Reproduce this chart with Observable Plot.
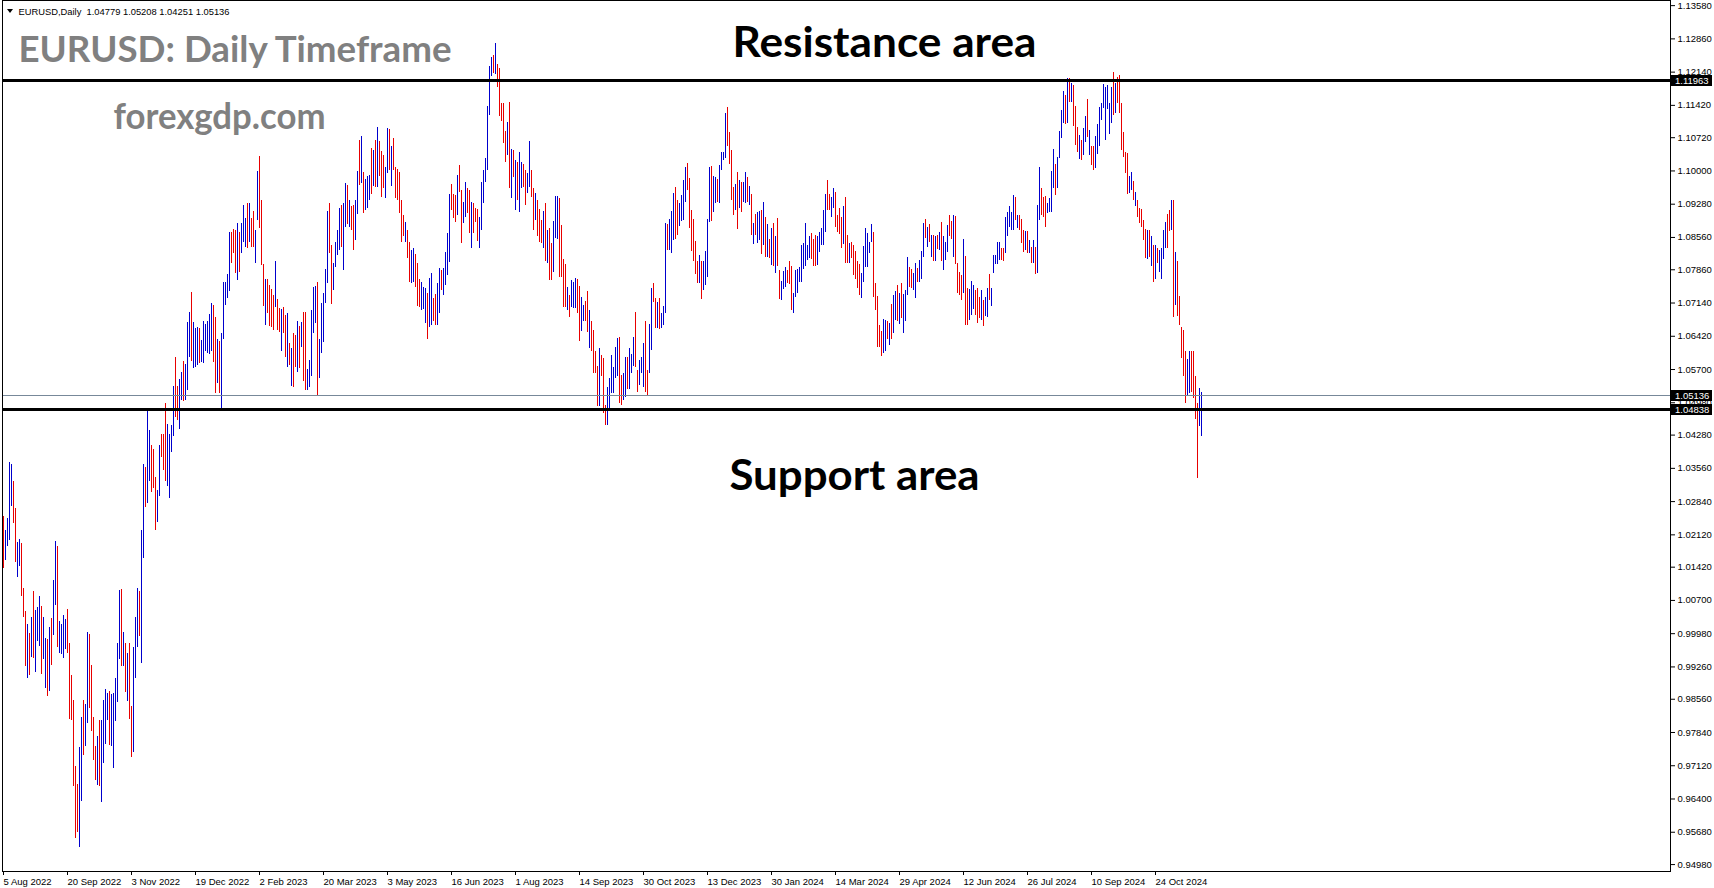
<!DOCTYPE html>
<html>
<head>
<meta charset="utf-8">
<script src="https://cdn.jsdelivr.net/npm/d3@7"></script>
<script src="https://cdn.jsdelivr.net/npm/@observablehq/plot@0.6"></script>
<style>
html, body { margin: 0; padding: 0; background: #fff; }
#chart svg { display: block; }
</style>
</head>
<body>
<div id="chart"></div>
<script>
// ---- Daily EURUSD bars, 5 Aug 2022 .. 26 Nov 2024 ----
const high = [
1.0252,1.0221,1.0248,1.0369,1.0364,1.0328,1.0269,1.0195,1.0202,1.0193,
1.0096,1.0047,1.0018,0.9999,1.0033,1.0090,1.0049,1.0054,1.0079,1.0056,
1.0032,0.9988,0.9985,1.0011,1.0031,1.0113,1.0198,1.0187,1.0025,1.0018,
1.0037,1.0029,1.0050,0.9977,0.9908,0.9853,0.9710,0.9672,0.9752,0.9816,
0.9853,0.9845,1.0000,0.9996,0.9928,0.9816,0.9754,0.9776,0.9811,0.9809,
0.9853,0.9877,0.9869,0.9873,0.9867,0.9869,0.9900,0.9977,1.0091,1.0094,
1.0000,0.9977,0.9954,0.9977,0.9841,0.9967,1.0034,1.0096,1.0090,1.0221,
1.0365,1.0357,1.0483,1.0438,1.0406,1.0396,1.0336,1.0308,1.0405,1.0429,
1.0429,1.0496,1.0452,1.0429,1.0449,1.0534,1.0595,1.0533,1.0548,1.0564,
1.0588,1.0581,1.0672,1.0694,1.0737,1.0672,1.0658,1.0660,1.0658,1.0633,
1.0673,1.0668,1.0673,1.0689,1.0712,1.0709,1.0683,1.0636,1.0631,1.0647,
1.0759,1.0759,1.0776,1.0866,1.0866,1.0874,1.0872,1.0887,1.0867,1.0886,
1.0925,1.0898,1.0930,1.0929,1.0898,1.0912,1.0872,1.0999,1.1031,1.0937,
1.0797,1.0766,1.0766,1.0753,1.0743,1.0730,1.0804,1.0722,1.0703,1.0699,
1.0705,1.0687,1.0692,1.0627,1.0615,1.0647,1.0644,1.0673,1.0664,1.0671,
1.0693,1.0693,1.0570,1.0590,1.0698,1.0748,1.0750,1.0758,1.0635,1.0712,
1.0734,1.0787,1.0912,1.0930,1.0839,1.0799,1.0844,1.0871,1.0918,1.0925,
1.0929,1.0972,1.0969,1.0937,1.0922,1.0925,1.0936,1.0999,1.1067,1.1075,
1.0996,1.0981,1.0987,1.0990,1.1048,1.1044,1.1067,1.1095,1.1064,1.1043,
1.1033,1.1008,1.1091,1.1090,1.1054,1.1070,1.1008,1.1004,1.0997,1.0935,
1.0904,1.0889,1.0871,1.0846,1.0828,1.0832,1.0818,1.0799,1.0766,1.0759,
1.0748,1.0745,1.0735,1.0768,1.0777,1.0723,1.0732,1.0756,1.0788,1.0785,
1.0788,1.0824,1.0864,1.0950,1.0971,1.0950,1.0947,1.0990,1.1012,1.0958,
1.0932,1.0976,1.0961,1.0958,1.0932,1.0930,1.0918,1.0917,1.0900,1.0974,
1.1001,1.1026,1.1140,1.1227,1.1245,1.1250,1.1276,1.1230,1.1222,1.1145,
1.1145,1.1086,1.1105,1.1148,1.1046,1.1045,1.1023,1.1019,1.1041,1.1019,
1.1015,1.1002,1.0995,1.1064,1.1002,1.0961,1.0951,1.0935,1.0916,1.0893,
1.0912,1.0930,1.0871,1.0875,1.0842,1.0891,1.0944,1.0945,1.0940,1.0882,
1.0808,1.0797,1.0748,1.0730,1.0763,1.0759,1.0768,1.0765,1.0750,1.0727,
1.0709,1.0718,1.0738,1.0698,1.0673,1.0655,1.0610,1.0577,1.0616,1.0600,
1.0593,1.0492,1.0532,1.0551,1.0600,1.0575,1.0618,1.0637,1.0640,1.0557,
1.0561,1.0595,1.0595,1.0616,1.0603,1.0640,1.0694,1.0568,1.0590,1.0597,
1.0626,1.0674,1.0568,1.0668,1.0745,1.0757,1.0723,1.0716,1.0723,1.0691,
1.0707,1.0886,1.0884,1.0894,1.0912,1.0951,1.0964,1.0935,1.0929,1.0947,
1.0979,1.1007,1.1016,1.0983,1.0914,1.0894,1.0848,1.0805,1.0817,1.0803,
1.0803,1.0826,1.0894,1.1007,1.1010,1.0987,1.0985,1.0981,1.1012,1.1041,
1.1039,1.1124,1.1137,1.1083,1.1044,1.0965,1.0971,1.0997,1.0979,1.0976,
1.0974,1.0997,1.0985,1.0966,1.0949,1.0886,1.0906,1.0909,1.0912,1.0914,
1.0932,1.0900,1.0883,1.0851,1.0876,1.0886,1.0857,1.0898,1.0784,1.0761,
1.0782,1.0790,1.0784,1.0804,1.0793,1.0734,1.0784,1.0787,1.0790,1.0839,
1.0842,1.0887,1.0839,1.0858,1.0864,1.0851,1.0860,1.0857,1.0867,1.0875,
1.0914,1.0948,1.0979,1.0950,1.0943,1.0961,1.0954,1.0904,1.0918,1.0900,
1.0922,1.0943,1.0860,1.0842,1.0845,1.0839,1.0826,1.0805,1.0797,1.0779,
1.0836,1.0875,1.0864,1.0846,1.0884,1.0866,1.0757,1.0728,1.0665,1.0653,
1.0678,1.0676,1.0675,1.0669,1.0711,1.0730,1.0740,1.0752,1.0734,1.0756,
1.0733,1.0741,1.0813,1.0790,1.0787,1.0777,1.0799,1.0788,1.0806,1.0826,
1.0887,1.0894,1.0877,1.0884,1.0860,1.0860,1.0859,1.0860,1.0867,1.0888,
1.0859,1.0844,1.0882,1.0904,1.0891,1.0904,1.0902,1.0800,1.0781,1.0774,
1.0852,1.0815,1.0745,1.0743,1.0761,1.0752,1.0741,1.0745,1.0725,1.0741,
1.0720,1.0725,1.0745,1.0776,1.0746,1.0817,1.0817,1.0846,1.0846,1.0831,
1.0831,1.0900,1.0909,1.0922,1.0909,1.0947,1.0942,1.0904,1.0904,1.0894,
1.0870,1.0869,1.0868,1.0849,1.0835,1.0849,1.0835,1.0925,1.1007,1.0963,
1.0943,1.0945,1.0929,1.0940,1.0999,1.1046,1.1014,1.1030,1.1086,1.1130,
1.1172,1.1163,1.1200,1.1200,1.1190,1.1185,1.1140,1.1095,1.1077,1.1066,
1.1093,1.1118,1.1154,1.1088,1.1053,1.1053,1.1075,1.1101,1.1138,1.1147,
1.1187,1.1180,1.1185,1.1147,1.1181,1.1214,1.1190,1.1202,1.1207,1.1145,
1.1084,1.1040,1.1037,1.0987,1.0997,1.0978,1.0954,1.0936,1.0918,1.0916,
1.0893,1.0873,1.0871,1.0871,1.0857,1.0839,1.0839,1.0831,1.0828,1.0831,
1.0871,1.0889,1.0906,1.0914,1.0936,1.0936,1.0824,1.0805,1.0728,1.0662,
1.0655,1.0608,1.0591,1.0608,1.0609,1.0610,1.0555,1.0497,1.0528,1.05208
];
const low = [
1.0140,1.0156,1.0187,1.0200,1.0273,1.0237,1.0153,1.0120,1.0144,1.0079,
1.0032,0.9926,0.9900,0.9908,0.9947,0.9945,0.9913,0.9982,0.9971,0.9910,
0.9941,0.9879,0.9863,0.9873,0.9929,0.9993,1.0058,0.9967,0.9954,0.9952,
0.9945,0.9964,0.9954,0.9812,0.9809,0.9668,0.9554,0.9568,0.9536,0.9635,
0.9735,0.9754,0.9804,0.9835,0.9787,0.9723,0.9681,0.9669,0.9668,0.9632,
0.9716,0.9757,0.9810,0.9756,0.9754,0.9705,0.9807,0.9848,0.9942,0.9926,
0.9926,0.9871,0.9852,0.9813,0.9729,0.9741,0.9900,0.9969,0.9991,0.9934,
1.0161,1.0271,1.0279,1.0328,1.0304,1.0312,1.0222,1.0238,1.0295,1.0380,
1.0352,1.0328,1.0317,1.0290,1.0391,1.0426,1.0467,1.0460,1.0441,1.0503,
1.0501,1.0503,1.0525,1.0595,1.0587,1.0573,1.0575,1.0579,1.0582,1.0586,
1.0582,1.0608,1.0604,1.0602,1.0610,1.0586,1.0517,1.0539,1.0517,1.0486,
1.0636,1.0709,1.0723,1.0738,1.0799,1.0821,1.0777,1.0763,1.0780,1.0821,
1.0844,1.0835,1.0833,1.0846,1.0835,1.0835,1.0800,1.0893,1.0875,1.0795,
1.0707,1.0666,1.0691,1.0663,1.0660,1.0655,1.0705,1.0655,1.0651,1.0610,
1.0647,1.0597,1.0575,1.0579,1.0533,1.0532,1.0575,1.0564,1.0572,1.0618,
1.0544,1.0525,1.0525,1.0530,1.0554,1.0647,1.0669,1.0514,1.0550,1.0604,
1.0629,1.0712,1.0756,1.0821,1.0711,1.0741,1.0792,1.0817,1.0828,1.0835,
1.0784,1.0878,1.0885,1.0878,1.0871,1.0828,1.0849,1.0906,1.0968,1.0972,
1.0907,1.0914,1.0918,1.0936,1.0950,1.0966,1.0965,1.0965,1.0987,1.0943,
1.0961,1.0940,1.0994,1.1001,1.0966,1.1000,1.0940,1.0936,1.0907,1.0846,
1.0857,1.0844,1.0810,1.0759,1.0757,1.0759,1.0748,1.0707,1.0705,1.0698,
1.0701,1.0670,1.0634,1.0662,1.0665,1.0673,1.0665,1.0665,1.0691,1.0741,
1.0730,1.0752,1.0774,1.0802,1.0914,1.0896,1.0889,1.0903,1.0954,1.0842,
1.0886,1.0900,1.0907,1.0864,1.0833,1.0864,1.0889,1.0848,1.0832,1.0871,
1.0930,1.0974,1.1000,1.1120,1.1205,1.1210,1.1208,1.1180,1.1117,1.1106,
1.1059,1.1019,1.1033,1.0963,1.0941,1.0985,1.0914,1.0936,1.0911,1.0961,
1.0964,1.0925,1.0951,1.0964,1.0942,1.0871,1.0893,1.0857,1.0844,1.0842,
1.0831,1.0803,1.0800,1.0763,1.0763,1.0780,1.0853,1.0851,1.0770,1.0770,
1.0705,1.0705,1.0698,1.0683,1.0705,1.0702,1.0703,1.0691,1.0631,1.0653,
1.0673,1.0673,1.0651,1.0615,1.0610,1.0561,1.0561,1.0489,1.0489,1.0554,
1.0474,1.0449,1.0449,1.0485,1.0517,1.0517,1.0551,1.0554,1.0496,1.0492,
1.0503,1.0510,1.0526,1.0526,1.0562,1.0577,1.0575,1.0521,1.0535,1.0561,
1.0532,1.0521,1.0514,1.0561,1.0611,1.0715,1.0658,1.0658,1.0657,1.0658,
1.0665,1.0691,1.0828,1.0828,1.0821,1.0849,1.0851,1.0860,1.0880,1.0891,
1.0893,1.0932,1.0958,1.0875,1.0826,1.0803,1.0776,1.0757,1.0756,1.0721,
1.0741,1.0752,1.0770,1.0889,1.0890,1.0911,1.0929,1.0932,1.0929,1.1000,
1.1023,1.1026,1.1052,1.1013,1.0936,1.0904,1.0914,1.0873,1.0919,1.0909,
1.0931,1.0929,1.0932,1.0925,1.0860,1.0841,1.0860,1.0842,1.0849,1.0819,
1.0839,1.0813,1.0812,1.0810,1.0795,1.0793,1.0779,1.0793,1.0721,1.0720,
1.0743,1.0747,1.0756,1.0754,1.0698,1.0692,1.0725,1.0734,1.0759,1.0759,
1.0786,1.0793,1.0806,1.0810,1.0808,1.0793,1.0793,1.0795,1.0824,1.0839,
1.0839,1.0867,1.0914,1.0915,1.0900,1.0918,1.0878,1.0867,1.0862,1.0833,
1.0840,1.0800,1.0800,1.0800,1.0810,1.0774,1.0766,1.0745,1.0730,1.0723,
1.0759,1.0790,1.0790,1.0821,1.0846,1.0727,1.0698,1.0618,1.0618,1.0599,
1.0604,1.0608,1.0634,1.0622,1.0634,1.0647,1.0676,1.0673,1.0667,1.0680,
1.0647,1.0673,1.0730,1.0748,1.0745,1.0741,1.0723,1.0759,1.0759,1.0765,
1.0812,1.0853,1.0834,1.0846,1.0813,1.0803,1.0803,1.0830,1.0828,1.0803,
1.0785,1.0806,1.0824,1.0857,1.0851,1.0813,1.0797,1.0735,1.0730,1.0720,
1.0734,1.0665,1.0665,1.0676,1.0687,1.0701,1.0687,1.0669,1.0680,1.0676,
1.0664,1.0685,1.0683,1.0720,1.0707,1.0777,1.0797,1.0797,1.0806,1.0806,
1.0803,1.0822,1.0857,1.0878,1.0871,1.0871,1.0893,1.0875,1.0870,1.0842,
1.0824,1.0828,1.0821,1.0821,1.0800,1.0799,1.0775,1.0779,1.0893,1.0904,
1.0900,1.0878,1.0907,1.0911,1.0911,1.0961,1.0947,1.0963,1.1028,1.1070,
1.1102,1.1100,1.1102,1.1149,1.1149,1.1096,1.1055,1.1041,1.1024,1.1023,
1.1034,1.1062,1.1072,1.1034,1.1012,1.1000,1.1005,1.1036,1.1052,1.1109,
1.1135,1.1066,1.1132,1.1079,1.1102,1.1120,1.1124,1.1145,1.1124,1.1044,
1.1030,1.0995,1.0950,1.0952,1.0958,1.0935,1.0922,1.0899,1.0886,1.0878,
1.0849,1.0810,1.0808,1.0813,1.0793,1.0759,1.0766,1.0799,1.0781,1.0766,
1.0808,1.0831,1.0831,1.0868,1.0870,1.0682,1.0709,1.0685,1.0665,1.0593,
1.0554,1.0496,1.0514,1.0517,1.0520,1.0507,1.0461,1.0334,1.0447,1.04251
];
// u = up bar (blue), d = down bar (red)
const direction = (
"duuuudduud" + "ddududuuud" + "uududuuduu" + "uudddddduu" + "duuddddudu" +
"uuuduuuuud" + "ududduuudu" + "uduuddduud" + "dduuuudduu" + "duuuduuudu" +
"uuuuuddudu" + "uuuudddudu" + "uududduudd" + "dudddduddu" + "ddududdudu" +
"dduuuuuduu" + "uuudduuuud" + "uududduudu" + "duuudududd" + "duududdddd" +
"dudduudddu" + "uuduudduud" + "uuuudddudd" + "uudduddduu" + "uuuuududdd" +
"ddudududuu" + "dduudduddd" + "ududduuudd" + "dduduuuddu" + "udduddddud" +
"dduuuuuudd" + "uuduuudduu" + "udduuddudu" + "uuduuudduu" + "uuddddddud" +
"uuuuduuduu" + "uuddddudud" + "uudududuud" + "ududududdu" + "uuddduuuuu" +
"uuuuddduuu" + "uudduudddd" + "uddudddddu" + "uuuuuddddd" + "uududuudud" +
"uuudduuduu" + "ududududud" + "uuuddudddd" + "udduuudddu" + "duuduuuuud" +
"duuuuududd" + "dudududuud" + "dduuuuduuu" + "udududddud" + "uududduuuu" +
"uuuuududdd" + "ddduududdd" + "ddudududuu" + "uuddududdd" + "dduudddduu"
).split("");

const dateLabels = ["5 Aug 2022","20 Sep 2022","3 Nov 2022","19 Dec 2022","2 Feb 2023","20 Mar 2023",
  "3 May 2023","16 Jun 2023","1 Aug 2023","14 Sep 2023","30 Oct 2023","13 Dec 2023","30 Jan 2024",
  "14 Mar 2024","29 Apr 2024","12 Jun 2024","26 Jul 2024","10 Sep 2024","24 Oct 2024"];
const dateLabelBar = [0,32,64,96,128,160,192,224,256,288,320,352,384,416,448,480,512,544,576];
const priceTicks = [1.13580,1.12860,1.12140,1.11420,1.10720,1.10000,1.09280,1.08560,1.07860,1.07140,
  1.06420,1.05700,1.04980,1.04280,1.03560,1.02840,1.02120,1.01420,1.00700,0.99980,0.99260,0.98560,
  0.97840,0.97120,0.96400,0.95680,0.94980];
const resistance = 1.11963;
const support = 1.04838;
const bid = 1.05136;
const header = "EURUSD,Daily  1.04779 1.05208 1.04251 1.05136";

// ---- build ----
const UP = "#0000cd", DOWN = "#e80000";
const bars = high.map((h, i) => ({i, h, l: low[i], up: direction[i] === "u"}));
const xTicks = dateLabels.map((label, k) => ({i: dateLabelBar[k], label}));

const W = 1714, H = 888, mL = 2, mR = 44, mT = 0, mB = 17;
const axisFont = "'Liberation Sans', Arial, sans-serif";

const chart = Plot.plot({
  width: W, height: H,
  marginLeft: mL, marginRight: mR, marginTop: mT, marginBottom: mB,
  style: {fontFamily: axisFont, fontSize: "9.5px", color: "#000", background: "#fff", overflow: "visible"},
  x: {domain: [-0.5, 833.5], axis: "bottom", ticks: dateLabelBar, tickSize: 4, tickFormat: () => "", label: null},
  y: {domain: [0.94830, 1.13691], axis: "right", ticks: priceTicks, tickSize: 4, tickPadding: 3,
      tickFormat: d => d.toFixed(5), label: null},
  color: {type: "identity"},
  marks: [
    Plot.ruleX(bars, {x: "i", y1: "l", y2: "h", stroke: d => d.up ? UP : DOWN, strokeWidth: 1, shapeRendering: "crispEdges"}),
    Plot.ruleY([bid], {y: d => d, stroke: "#778899", strokeWidth: 1, shapeRendering: "crispEdges"}),
    Plot.ruleY([resistance, support], {y: d => d, stroke: "#000", strokeWidth: 3, shapeRendering: "crispEdges"}),
    Plot.frame({stroke: "#000", shapeRendering: "crispEdges"}),
    Plot.text(xTicks, {x: "i", text: "label", frameAnchor: "bottom", textAnchor: "start", lineAnchor: "bottom", dx: 0, dy: 13}),
    Plot.text([header], {text: d => d, frameAnchor: "top-left", textAnchor: "start", lineAnchor: "bottom", dx: 16, dy: 14, fontSize: 9.5}),
    Plot.text(["EURUSD: Daily Timeframe"], {text: d => d, frameAnchor: "top-left", textAnchor: "start", lineAnchor: "bottom",
      dx: 16, dy: 61, fontSize: 36, fontWeight: "bold", fontFamily: "Lato", fill: "#808080"}),
    Plot.text(["forexgdp.com"], {text: d => d, frameAnchor: "top-left", textAnchor: "start", lineAnchor: "bottom",
      dx: 111, dy: 128, fontSize: 36, fontWeight: "bold", fontFamily: "Lato", fill: "#808080"}),
    Plot.text(["Resistance area"], {text: d => d, frameAnchor: "top-left", textAnchor: "start", lineAnchor: "bottom",
      dx: 730, dy: 56, fontSize: 42, fontWeight: "bold", fontFamily: "Lato", fill: "#000"}),
    Plot.text(["Support area"], {text: d => d, frameAnchor: "top-left", textAnchor: "start", lineAnchor: "bottom",
      dx: 727, dy: 489, fontSize: 42, fontWeight: "bold", fontFamily: "Lato", fill: "#000"})
  ]
});

document.getElementById("chart").appendChild(chart);

// fit text widths measured on the reference
const svg = d3.select(chart);
const widths = {"EURUSD: Daily Timeframe": 433, "forexgdp.com": 212, "Resistance area": 304, "Support area": 250, [header]: 211};
svg.selectAll("text").each(function() {
  const w = widths[this.textContent];
  if (w) d3.select(this).attr("textLength", w).attr("lengthAdjust", "spacingAndGlyphs");
});

// header triangle
svg.append("path").attr("d", "M7,9 L13,9 L10,13 Z").attr("fill", "#000");

// price labels on the axis (black boxes, white text)
const ys = chart.scale("y");
for (const v of [resistance, bid, support]) {
  const y = Math.round(ys.apply(v)) + 0.5;
  const g = svg.append("g").attr("text-anchor", "start");
  g.append("rect").attr("x", W - mR).attr("y", y - 5.5).attr("width", 42).attr("height", 11)
    .attr("fill", "#000").attr("shape-rendering", "crispEdges");
  g.append("text").attr("x", W - mR + 5).attr("y", y).attr("dy", "0.34em").attr("fill", "#fff")
    .attr("text-anchor", "start").attr("font-family", axisFont).attr("font-size", "9.5px").text(v.toFixed(5));
}

if (high.length !== low.length || high.length !== direction.length) {
  svg.append("text").attr("x", 300).attr("y", 300).attr("fill", "magenta").attr("font-size", 20)
    .text(`length mismatch ${high.length} ${low.length} ${direction.length}`);
}
</script>
</body>
</html>
